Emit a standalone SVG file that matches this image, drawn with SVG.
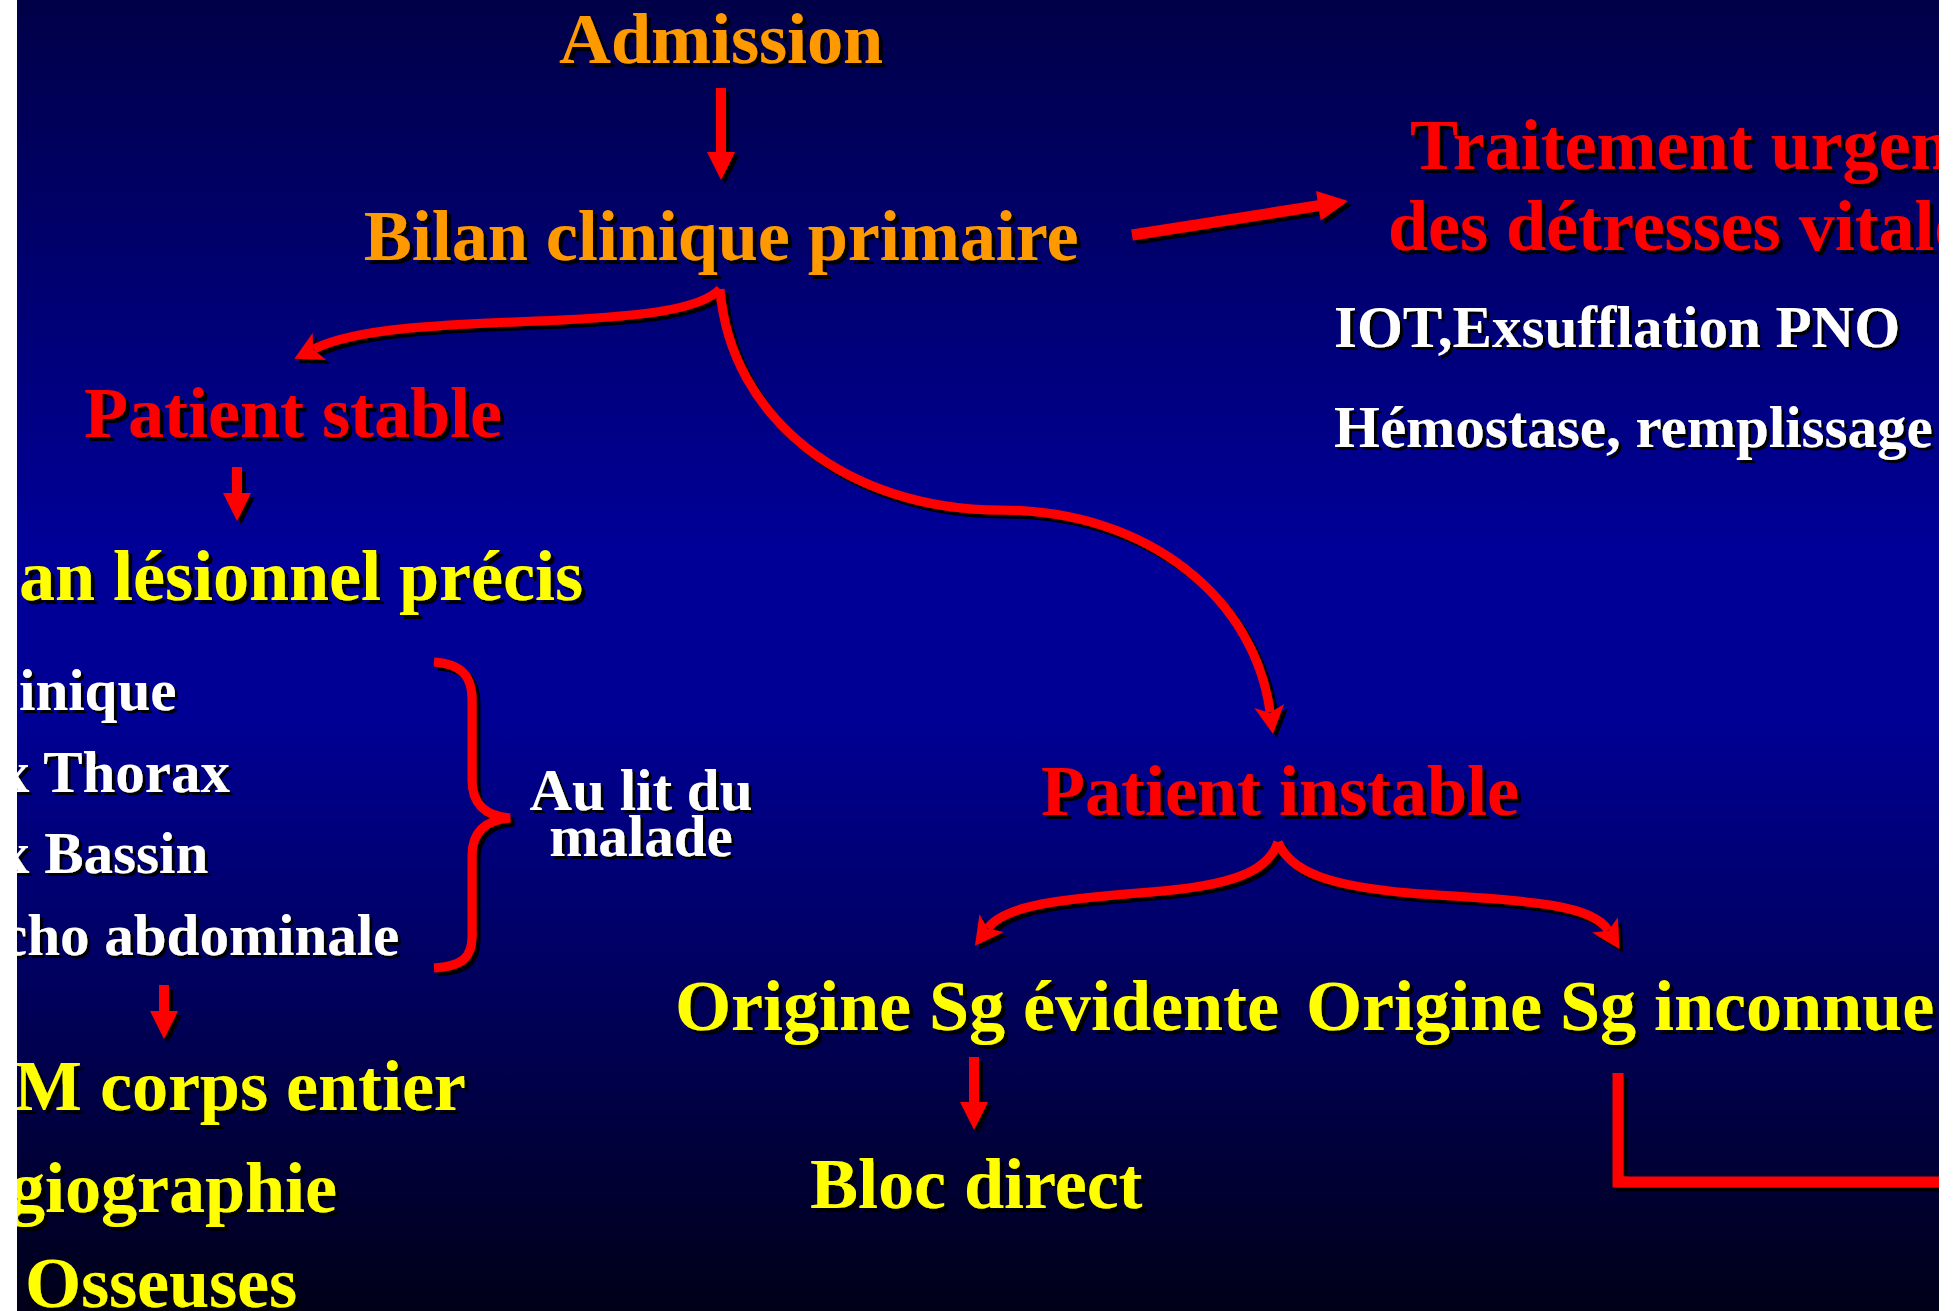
<svg xmlns="http://www.w3.org/2000/svg" width="1959" height="1311" viewBox="0 0 1959 1311">
<defs>
  <linearGradient id="bg" x1="0" y1="0" x2="0" y2="1">
    <stop offset="0" stop-color="#000048"/>
    <stop offset="0.42" stop-color="#000098"/>
    <stop offset="0.55" stop-color="#000094"/>
    <stop offset="0.8" stop-color="#000050"/>
    <stop offset="1" stop-color="#000018"/>
  </linearGradient>
  <clipPath id="panel"><rect x="17" y="0" width="1922" height="1311"/></clipPath>
  <filter id="sh" x="-5%" y="-5%" width="115%" height="130%">
    <feDropShadow dx="4" dy="4" stdDeviation="0.6" flood-color="#000" flood-opacity="1"/>
  </filter>
  <filter id="shs" x="-5%" y="-5%" width="115%" height="130%">
    <feDropShadow dx="3" dy="3" stdDeviation="0.5" flood-color="#000" flood-opacity="1"/>
  </filter>
  <marker id="barb" markerUnits="userSpaceOnUse" markerWidth="40" markerHeight="40" viewBox="-2 -20 40 40" refX="6" refY="0" orient="auto">
    <path d="M28,0 L0,-15 L7,0 L0,15 Z" fill="#ff0000"/>
  </marker>
  <style>
    text { font-family: "Liberation Serif", "Times New Roman", serif; font-weight: bold; }
    .big { font-size: 72px; }
    .small { font-size: 59px; }
    .orange { fill: #ff9900; }
    .red { fill: #ff0000; }
    .yellow { fill: #ffff00; }
    .white { fill: #ffffff; }
    .arrow { fill: #ff0000; }
    .curve { fill: none; stroke: #ff0000; stroke-width: 9; stroke-linecap: butt; }
  </style>
</defs>
<rect x="0" y="0" width="1959" height="1311" fill="#ffffff"/>
<rect x="17" y="0" width="1922" height="1311" fill="url(#bg)"/>
<g clip-path="url(#panel)">
  <g id="connectors" filter="url(#sh)">
    <polygon class="arrow" points="716,88 726,88 726,152 735,152 721,180 707,152 716,152"/>
    <polygon class="arrow" points="1131.1,229.6 1317.5,200.3 1316.1,190.9 1348,201 1320.7,220.5 1319.3,211.1 1132.9,240.4"/>
    <path class="curve" d="M720,289 C700,310 640,316 560,320 C460,324 360,326 314,349" marker-end="url(#barb)"/>
    <path class="curve" d="M720,289 C730,420 850,510 1000,510 C1150,510 1255,600 1270,712" marker-end="url(#barb)"/>
    <polygon class="arrow" points="232,467 242,467 242,493 251,493 237,521 223,493 232,493"/>
    <path class="curve" d="M434,662 C462,664 472,676 472,700 L472,780 C472,805 486,816 510,818 C486,820 472,831 472,856 L472,936 C472,958 462,966 434,968"/>
    <polygon class="arrow" points="159,985 169,985 169,1011 178,1011 164,1039 150,1011 159,1011"/>
    <path class="curve" d="M1278,842 C1268,872 1230,886 1150,892 C1060,899 1005,905 988,928" marker-end="url(#barb)"/>
    <path class="curve" d="M1278,842 C1290,872 1330,886 1410,893 C1500,900 1590,900 1608,930" marker-end="url(#barb)"/>
    <polygon class="arrow" points="969,1057 979,1057 979,1102 988,1102 974,1130 960,1102 969,1102"/>
    <path class="curve" d="M1618,1073 L1618,1182 L1950,1182" style="stroke-width:11;stroke-linejoin:miter"/>
  </g>
  <g id="n-admission" filter="url(#sh)"><text class="big orange" x="721" y="63" text-anchor="middle">Admission</text></g>
  <g id="n-bilan-clinique" filter="url(#sh)"><text class="big orange" x="721" y="260" text-anchor="middle">Bilan clinique primaire</text></g>
  <g id="n-traitement" filter="url(#sh)">
    <text class="big red" x="1410" y="169">Traitement urgen</text>
    <text class="big red" x="1388" y="250">des détresses vitale</text>
  </g>
  <g id="n-gestes" filter="url(#shs)">
    <text class="small white" x="1334" y="347">IOT,Exsufflation PNO</text>
    <text class="small white" x="1334" y="447">Hémostase, remplissage</text>
  </g>
  <g id="n-patient-stable" filter="url(#sh)"><text class="big red" x="84" y="437">Patient stable</text></g>
  <g id="n-bilan-lesionnel" filter="url(#sh)"><text class="big yellow" x="19" y="600">an lésionnel précis</text></g>
  <g id="n-examens" filter="url(#shs)">
    <text class="small white" x="19" y="710">inique</text>
    <text class="small white" x="0" y="792">x Thorax</text>
    <text class="small white" x="0" y="873">x Bassin</text>
    <text class="small white" x="1" y="955">cho abdominale</text>
  </g>
  <g id="n-au-lit" filter="url(#shs)">
    <text class="small white" x="641" y="810" text-anchor="middle">Au lit du</text>
    <text class="small white" x="641" y="856" text-anchor="middle">malade</text>
  </g>
  <g id="n-imagerie" filter="url(#sh)">
    <text class="big yellow" x="14" y="1110">M corps entier</text>
    <text class="big yellow" x="9" y="1212">giographie</text>
    <text class="big yellow" x="25" y="1307">Osseuses</text>
  </g>
  <g id="n-patient-instable" filter="url(#sh)"><text class="big red" x="1041" y="815">Patient instable</text></g>
  <g id="n-origine-evidente" filter="url(#sh)"><text class="big yellow" x="675" y="1030">Origine Sg évidente</text></g>
  <g id="n-origine-inconnue" filter="url(#sh)"><text class="big yellow" x="1306" y="1030">Origine Sg inconnue</text></g>
  <g id="n-bloc" filter="url(#sh)"><text class="big yellow" x="810" y="1208">Bloc direct</text></g>
</g>
</svg>
